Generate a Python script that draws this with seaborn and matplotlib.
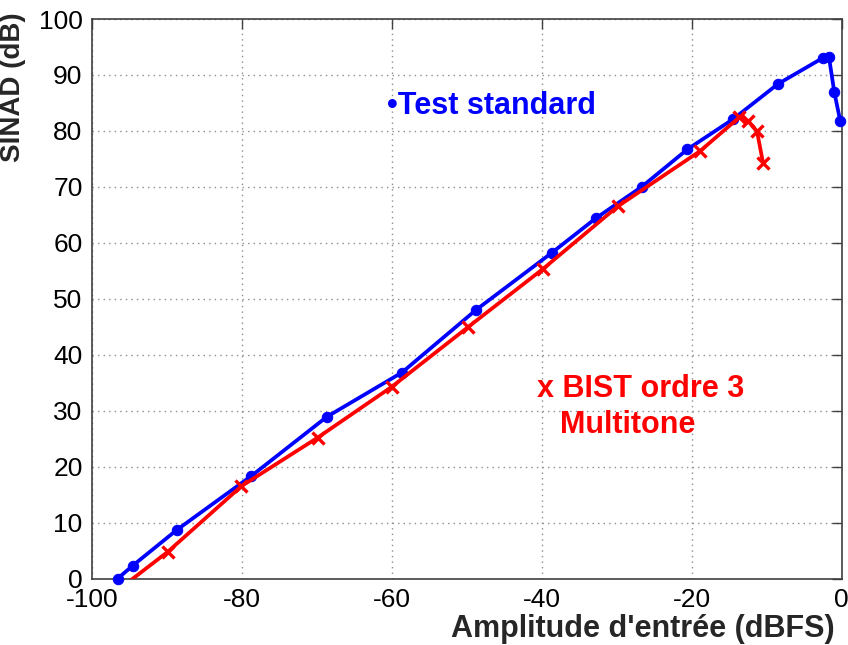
import matplotlib
matplotlib.use("Agg")
import matplotlib.pyplot as plt
import seaborn as sns
import pandas as pd

# Standard test: SINAD versus input amplitude
std_amplitude = [-96.6, -94.6, -88.7, -78.8, -68.7, -58.7, -48.8, -38.7, -32.8,
                 -26.7, -20.6, -14.5, -8.5, -2.45, -1.7, -1.0, -0.2]
std_sinad = [0.0, 2.3, 8.7, 18.3, 28.9, 36.8, 48.0, 58.2, 64.4,
             70.0, 76.7, 82.1, 88.4, 93.1, 93.2, 87.0, 81.8]

# Third-order BIST with multitone stimulus
bist_amplitude = [-96.5, -89.9, -80.1, -69.9, -60.0, -49.8, -39.8, -29.9,
                  -18.9, -13.7, -12.5, -11.3, -10.5]
bist_sinad = [-2.0, 4.8, 16.5, 25.2, 34.3, 45.0, 55.4, 66.5,
              76.4, 82.4, 81.8, 79.9, 74.3]

x_ticks = [-100, -80, -60, -40, -20, 0]
y_ticks = [0, 10, 20, 30, 40, 50, 60, 70, 80, 90, 100]

std_df = pd.DataFrame({"amp": std_amplitude, "sinad": std_sinad})
bist_df = pd.DataFrame({"amp": bist_amplitude, "sinad": bist_sinad})

sns.set_theme(style="white")
plt.rcParams["font.family"] = ["Liberation Sans", "DejaVu Sans"]

fig = plt.figure(figsize=(8.48, 6.45), dpi=100)
ax = fig.add_axes([0.1088, 0.1031, 0.8838, 0.8674])

sns.lineplot(data=std_df, x="amp", y="sinad", sort=False, ax=ax,
             color="#0000ff", linewidth=2.7, marker="o", markersize=7.5,
             markeredgecolor="#0000ff", clip_on=False, zorder=3)
sns.lineplot(data=bist_df, x="amp", y="sinad", sort=False, ax=ax,
             color="#ff0000", linewidth=2.7, marker="x", markersize=8.5,
             markeredgewidth=2.4, markeredgecolor="#ff0000", zorder=4)

ax.set_xlim(-100, 0)
ax.set_ylim(0, 100)
ax.set_xticks(x_ticks)
ax.set_yticks(y_ticks)
ax.set_xticklabels([str(v) for v in x_ticks])
ax.set_yticklabels([str(v) for v in y_ticks])

ax.grid(True, color="#8c8c8c", linestyle=(0, (1, 3)), linewidth=1.0)
for spine in ax.spines.values():
    spine.set_color("#404040")
    spine.set_linewidth(1.2)
ax.tick_params(axis="both", which="major", direction="in", length=7,
               width=1.0, color="#404040", labelsize=19, labelcolor="black",
               top=True, right=True, pad=7)

ax.set_xlabel("Amplitude d'entrée (dBFS)", fontsize=22, fontweight="bold",
              loc="right")
ax.xaxis.set_label_coords(0.991, -0.064)
ax.set_ylabel("SINAD (dB)", fontsize=20, fontweight="bold", loc="top")
ax.yaxis.set_label_coords(-0.088, 1.011)

ax.text(-60.7, 83.0, "•Test standard", color="#0000ff", fontsize=22,
        fontweight="bold", va="baseline", ha="left")
ax.text(-40.7, 32.4, "x BIST ordre 3", color="#ff0000", fontsize=22,
        fontweight="bold", va="baseline", ha="left")
ax.text(-37.6, 26.0, "Multitone", color="#ff0000", fontsize=22,
        fontweight="bold", va="baseline", ha="left")

fig.savefig("out.png", dpi=100)
